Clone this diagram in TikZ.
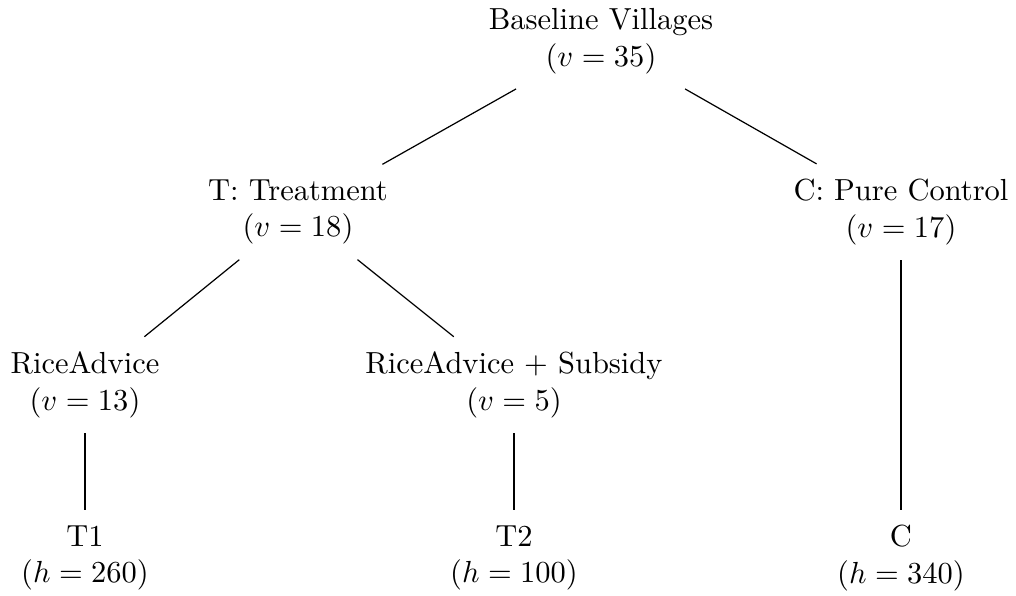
\documentclass[tikz,border=0pt]{standalone}
\usepackage{tikz}
\tikzset{
  grp/.style={align=center, inner sep=5pt, outer sep=0pt},
  link/.style={line width=0.4pt, draw=black},
}
\begin{document}
\begin{tikzpicture}[x=0.328pt, y=-0.328pt]
  \useasboundingbox (0,0) rectangle (1016,596);
  % Stufe 1: Dörfer
  \node[grp] (root) at (601,41) {Baseline Villages\\($v=35$)};
  % Stufe 2: Zuteilung
  \node[grp] (treat) at (298,212) {T: Treatment\\($v=18$)};
  \node[grp] (ctrl) at (901,212) {C: Pure Control\\($v=17$)};
  % Stufe 3: Varianten
  \node[grp] (ra) at (85,385) {RiceAdvice\\($v=13$)};
  \node[grp] (ras) at (514,385) {RiceAdvice + Subsidy\\($v=5$)};
  % Stufe 4: Haushalte
  \node[grp] (tone) at (85,558) {T1\\($h=260$)};
  \node[grp] (ttwo) at (514,558) {T2\\($h=100$)};
  \node[grp] (cgrp) at (901,558) {C\\($h=340$)};
  % Verbindungen
  \draw[link] (root) -- (treat);
  \draw[link] (root) -- (ctrl);
  \draw[link] (treat) -- (ra);
  \draw[link] (treat) -- (ras);
  \draw[link] (ra) -- (tone);
  \draw[link] (ras) -- (ttwo);
  \draw[link] (ctrl) -- (cgrp);
\end{tikzpicture}
\end{document}
